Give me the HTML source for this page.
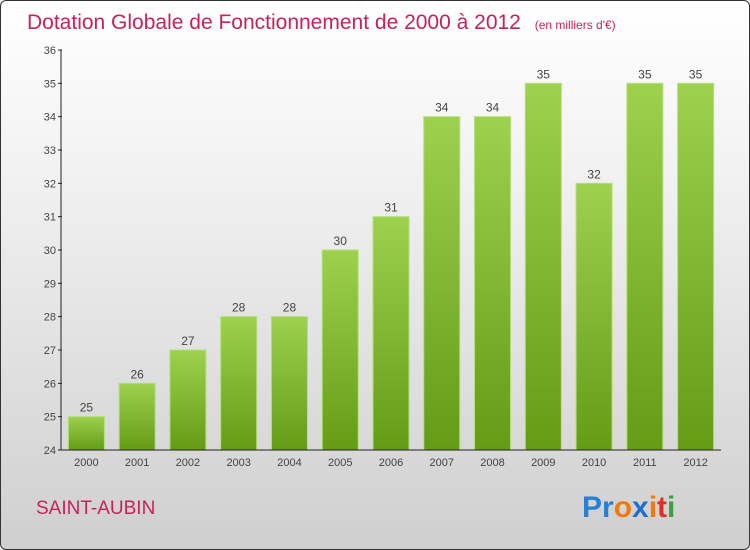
<!DOCTYPE html>
<html><head><meta charset="utf-8"><style>
body{margin:0;width:750px;height:550px;overflow:hidden;font-family:"Liberation Sans",sans-serif}
#c{position:absolute;left:0;top:0;width:748px;height:548px;border:1px solid #333;border-radius:6px;background:linear-gradient(#ffffff,#f2f2f2 30%,#d9d9d9 80%,#cfcfcf)}
</style></head><body>
<div id="c">
<svg id="s" width="750" height="550" style="position:absolute;left:-1px;top:-1px">
<defs><linearGradient id="g" x1="0" y1="0" x2="0" y2="1"><stop offset="0" stop-color="#9dd14e"/><stop offset="1" stop-color="#649c16"/></linearGradient></defs>
<text x="27" y="29" font-size="21" fill="#c4235e" style="font-weight:300">Dotation Globale de Fonctionnement de 2000 à 2012 <tspan font-size="12" dx="8">(en milliers d'€)</tspan></text>
<text x="36" y="514" font-size="19" fill="#c4235e">SAINT-AUBIN</text>
<g font-size="30" font-weight="bold"><text x="582" y="517" fill="#2a7fd4">Pr<tspan fill="#f07a10">o</tspan><tspan fill="#1f6fd0">x</tspan><tspan fill="#f07a10">i</tspan><tspan fill="#e03020">t</tspan><tspan fill="#3aa040">i</tspan></text></g>
<g id="plot"></g>
</svg></div>
<script>
const categories=["2000","2001","2002","2003","2004","2005","2006","2007","2008","2009","2010","2011","2012"];
const values=[25,26,27,28,28,30,31,34,34,35,32,35,35];
const yTicks=[24,25,26,27,28,29,30,31,32,33,34,35,36];
const L=61,R=721,T=50,B=450,ymin=24,ymax=36;
const y=v=>B-(v-ymin)/(ymax-ymin)*(B-T);
const band=(R-L)/categories.length;
const x=i=>L+band*(i+0.5);
const NS="http://www.w3.org/2000/svg",g=document.getElementById("plot");
function mk(t,a,txt){const e=document.createElementNS(NS,t);for(const k in a)e.setAttribute(k,a[k]);if(txt!=null)e.textContent=txt;g.appendChild(e);return e;}
values.forEach((v,i)=>{
 const r=mk("rect",{x:x(i)-18,y:y(v),width:36,height:B-y(v),fill:"url(#g)",stroke:"#b5de7a","stroke-width":1});
 
 
 const t=mk("text",{x:x(i),y:y(v)-5,"text-anchor":"middle","font-size":12,fill:"#444"},v);
 
 
 const c=mk("text",{x:x(i),y:B+16,"text-anchor":"middle","font-size":11,fill:"#444"},categories[i]);
 
 
});
yTicks.forEach(v=>{
 const l=mk("line",{x1:L-3,x2:L+1,y1:y(v),y2:y(v),stroke:"#222"});
 
 
 const t=mk("text",{x:L-5,y:y(v)+4,"text-anchor":"end","font-size":11,fill:"#444"},v);
 
 
});
const ya=mk("line",{x1:L,x2:L,y1:T,y2:B,stroke:"#222"});


const xa=mk("line",{x1:L,x2:R,y1:B,y2:B,stroke:"#222"});


</script>
</body></html>
